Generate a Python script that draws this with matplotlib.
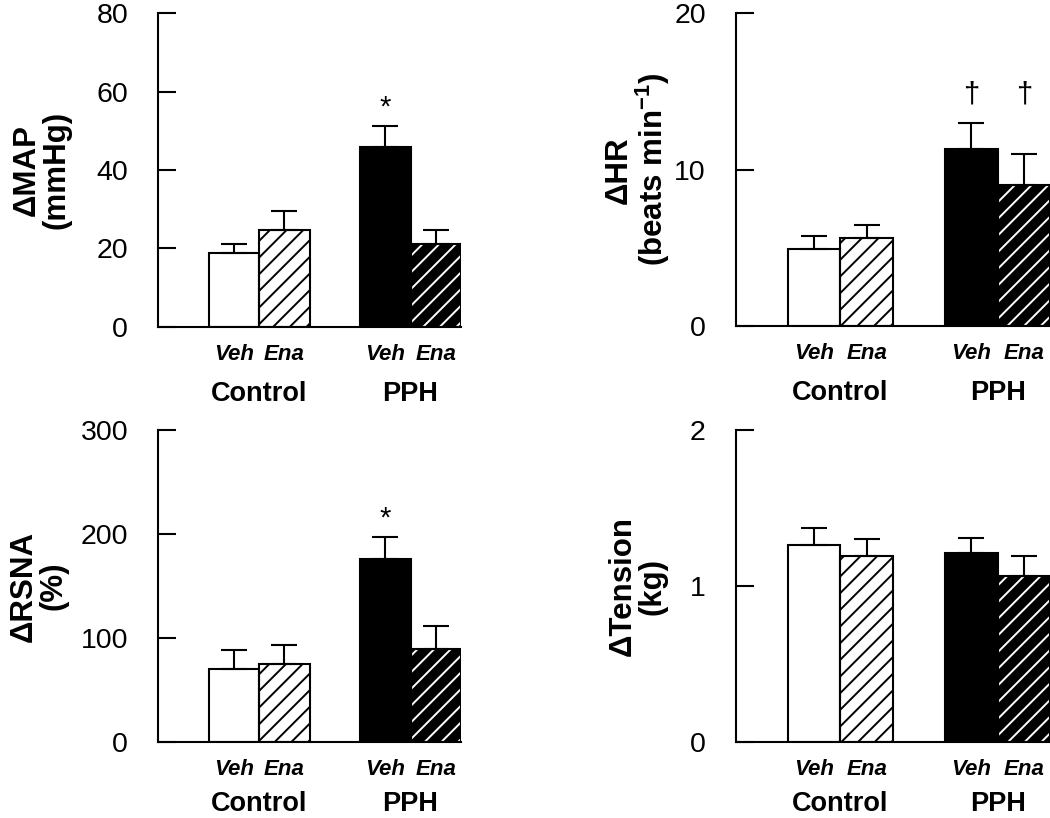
import matplotlib
matplotlib.use("Agg")
import matplotlib.pyplot as plt

plt.rcParams['font.family'] = ['Liberation Sans', 'DejaVu Sans']
plt.rcParams['mathtext.fontset'] = 'custom'
plt.rcParams['mathtext.rm'] = 'Liberation Sans'
plt.rcParams['mathtext.bf'] = 'Liberation Sans:bold'
plt.rcParams['hatch.linewidth'] = 1.4

# ---------------- data ----------------
groups = ['Control', 'PPH']
treatments = ['Veh', 'Ena']

map_mean = [18.8, 24.7, 45.9, 21.1]
map_sem = [2.4, 4.9, 5.4, 3.5]

hr_mean = [4.95, 5.67, 11.35, 9.06]
hr_sem = [0.85, 0.83, 1.65, 1.92]

rsna_mean = [70.7, 74.9, 175.8, 89.6]
rsna_sem = [17.7, 18.6, 21.1, 21.8]

tension_mean = [1.263, 1.193, 1.214, 1.065]
tension_sem = [0.107, 0.109, 0.096, 0.128]

map_ticks = [0, 20, 40, 60, 80]
hr_ticks = [0, 10, 20]
rsna_ticks = [0, 100, 200, 300]
tension_ticks = [0, 1, 2]

# significance marks: (bar index, symbol)
map_marks = [(2, '*')]
rsna_marks = [(2, '*')]
hr_marks = [(2, '\u2020'), (3, '\u2020')]
hr_mark_level = 14.3

positions = [0, 1, 3, 4]
group_centers = [0.5, 3.5]

fig = plt.figure(figsize=(10.5, 8.18), dpi=100)

panels = [
    dict(rect=[158/1050, 1-326.5/818, 303/1050, 313.2/818], mean=map_mean, sem=map_sem,
         ticks=map_ticks, label='\u0394MAP\n(mmHg)', marks=map_marks, mark_level=None,
         labx=-0.385, grp_off=53.3),
    dict(rect=[735.7/1050, 1-326.3/818, 314.3/1050, 313.0/818], mean=hr_mean, sem=hr_sem,
         ticks=hr_ticks, label='\u0394HR\n(beats min$^{\\mathbf{-1}}$)', marks=hr_marks,
         mark_level=hr_mark_level, labx=-0.311, grp_off=53.3),
    dict(rect=[158/1050, 1-742.3/818, 303/1050, 312.3/818], mean=rsna_mean, sem=rsna_sem,
         ticks=rsna_ticks, label='\u0394RSNA\n(%)', marks=rsna_marks, mark_level=None,
         labx=-0.395, grp_off=49.5),
    dict(rect=[735.7/1050, 1-742.3/818, 314.3/1050, 312.3/818], mean=tension_mean,
         sem=tension_sem, ticks=tension_ticks, label='\u0394Tension\n(kg)', marks=[],
         mark_level=None, labx=-0.311, grp_off=49.5),
]

faces = ['white', 'white', 'black', 'black']
hatch_colors = [None, 'black', None, 'white']

for p in panels:
    ax = fig.add_axes(p['rect'])
    mean, sem = p['mean'], p['sem']
    for i, (x, m) in enumerate(zip(positions, mean)):
        if hatch_colors[i] is not None:
            ax.bar(x, m, width=1.0, color=faces[i], edgecolor=hatch_colors[i],
                   hatch='//', linewidth=0, zorder=1)
            ax.bar(x, m, width=1.0, fill=False, edgecolor='black', linewidth=1.5, zorder=1.5)
        else:
            ax.bar(x, m, width=1.0, color=faces[i], edgecolor='black', linewidth=1.5, zorder=1.5)
    ax.errorbar(positions, mean, yerr=[[0]*len(mean), sem], fmt='none', ecolor='black',
                elinewidth=1.5, capsize=9.5, capthick=1.5, zorder=3)

    ax.set_xlim(-1.5, 4.5)
    ax.set_ylim(p['ticks'][0], p['ticks'][-1])
    ax.set_yticks(p['ticks'])
    ax.set_yticklabels([str(t) for t in p['ticks']])
    ax.tick_params(axis='y', direction='in', length=13, width=1.5, pad=21.5, labelsize=20.5)
    ax.set_xticks([])
    for s in ['top', 'right']:
        ax.spines[s].set_visible(False)
    for s in ['left', 'bottom']:
        ax.spines[s].set_linewidth(1.5)
    ax.spines['left'].set_zorder(4)

    # category labels
    for x, t in zip(positions, treatments * 2):
        ax.annotate(t, xy=(x, 0), xycoords=('data', 'axes fraction'), xytext=(0, -23.8),
                    textcoords='offset points', ha='center', va='baseline',
                    fontsize=16, fontweight='bold', fontstyle='italic')
    for gc, g in zip(group_centers, groups):
        ax.annotate(g, xy=(gc, 0), xycoords=('data', 'axes fraction'),
                    xytext=(0, -p['grp_off']), textcoords='offset points',
                    ha='center', va='baseline', fontsize=19.5, fontweight='bold')

    # y label
    ax.text(p['labx'], 0.5, p['label'], transform=ax.transAxes, rotation=90,
            ha='center', va='center', multialignment='center', fontsize=22.5,
            fontweight='bold', linespacing=0.98)

    # significance marks
    for idx, sym in p['marks']:
        if p['mark_level'] is None:
            ax.annotate(sym, xy=(positions[idx], mean[idx] + sem[idx]), xytext=(0, 7.5),
                        textcoords='offset points', ha='center', va='baseline', fontsize=21)
        else:
            ax.text(positions[idx], p['mark_level'], sym, ha='center', va='baseline',
                    fontsize=21)

fig.savefig('out.png', dpi=100)
